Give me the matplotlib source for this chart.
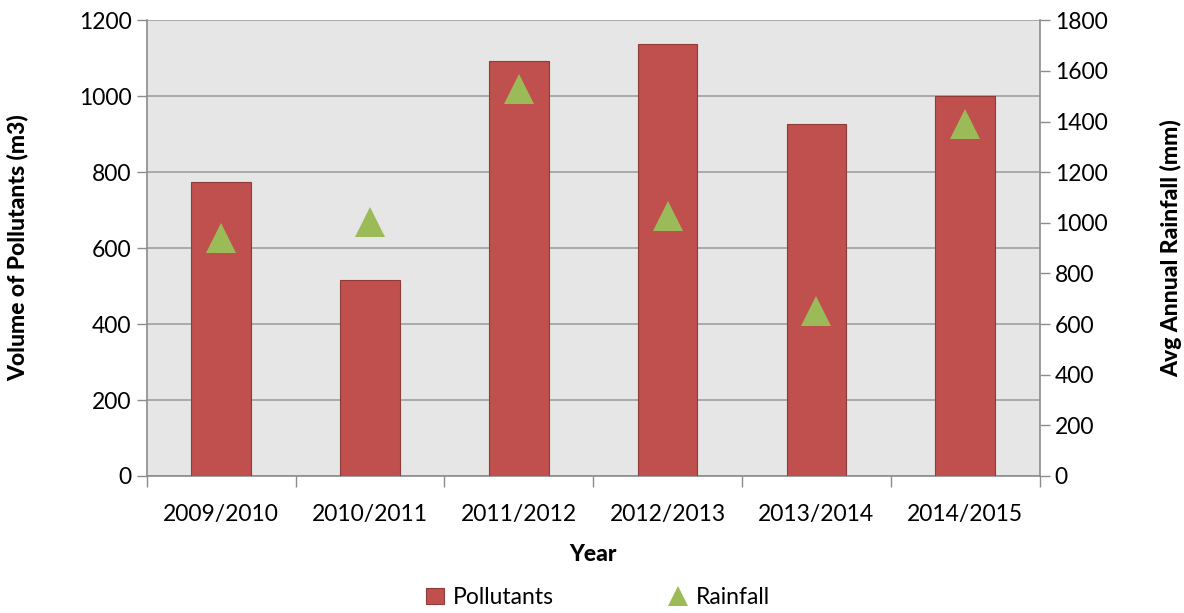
import matplotlib
matplotlib.use("Agg")
import matplotlib.pyplot as plt
import numpy as np
from matplotlib.lines import Line2D
from matplotlib.patches import Patch

plt.rcParams['font.family'] = ['Lato', 'DejaVu Sans']

years = ['2009/2010', '2010/2011', '2011/2012', '2012/2013', '2013/2014', '2014/2015']
pollutants = [774, 516, 1092, 1138, 926, 1000]
rainfall = [938, 1002, 1530, 1028, 650, 1392]

bar_color = '#C0504D'
tri_color = '#9BBB59'
axis_gray = '#8C8C8C'

fig = plt.figure(figsize=(11.84, 6.13), dpi=100)
ax = fig.add_axes([0.124, 0.2235, 0.754, 0.7435])
ax.set_facecolor('#E6E6E6')

x = np.arange(len(years))
ax.bar(x, pollutants, width=0.4, color=bar_color, edgecolor='#8E3B39', linewidth=0.8, zorder=3)
ax.set_xlim(-0.5, len(years) - 0.5)
ax.set_ylim(0, 1200)
ax.set_yticks(range(0, 1201, 200))
ax.yaxis.grid(True, color='#A0A0A0', linewidth=1.2, zorder=0)
ax.set_axisbelow(True)

ax.set_xticks(x)
ax.set_xticklabels(years)
ax.set_xticks(np.arange(-0.5, len(years)), minor=True)
ax.tick_params(axis='x', which='major', length=0, pad=20, labelsize=16.5)
ax.tick_params(axis='x', which='minor', length=8, color=axis_gray, width=1)
ax.tick_params(axis='y', length=7, color=axis_gray, width=1, labelsize=16.5, pad=4)

for s in ['top', 'right']:
    ax.spines[s].set_visible(False)
for s in ['left', 'bottom']:
    ax.spines[s].set_color(axis_gray)
    ax.spines[s].set_linewidth(1.2)

ax2 = ax.twinx()
ax2.plot(x, rainfall, linestyle='none', marker='^', markersize=21,
         color=tri_color, markeredgewidth=0, zorder=4)
ax2.set_ylim(0, 1800)
ax2.set_yticks(range(0, 1801, 200))
ax2.tick_params(axis='y', length=7, color=axis_gray, width=1, labelsize=16.5, pad=4)
for s in ['top', 'left', 'bottom']:
    ax2.spines[s].set_visible(False)
ax2.spines['right'].set_color(axis_gray)
ax2.spines['right'].set_linewidth(1.2)

label_font = dict(fontsize=16.5, fontweight='black')
ax.set_xlabel('Year', labelpad=14, **label_font)
ax.set_ylabel('Volume of Pollutants (m3)', labelpad=36, **label_font)
ax2.set_ylabel('Avg Annual Rainfall (mm)', labelpad=38, **label_font)

handles = [Patch(facecolor=bar_color, edgecolor='#8E3B39', linewidth=0.8),
           Line2D([], [], linestyle='none', marker='^', markersize=14,
                  color=tri_color, markeredgewidth=0)]
fig.legend(handles, ['Pollutants', 'Rainfall'], loc='center', ncol=2,
           bbox_to_anchor=(0.505, 0.025), frameon=False, fontsize=16.5,
           columnspacing=5.0, handlelength=0.8, handletextpad=0.4)

fig.savefig('out.png', dpi=100)
